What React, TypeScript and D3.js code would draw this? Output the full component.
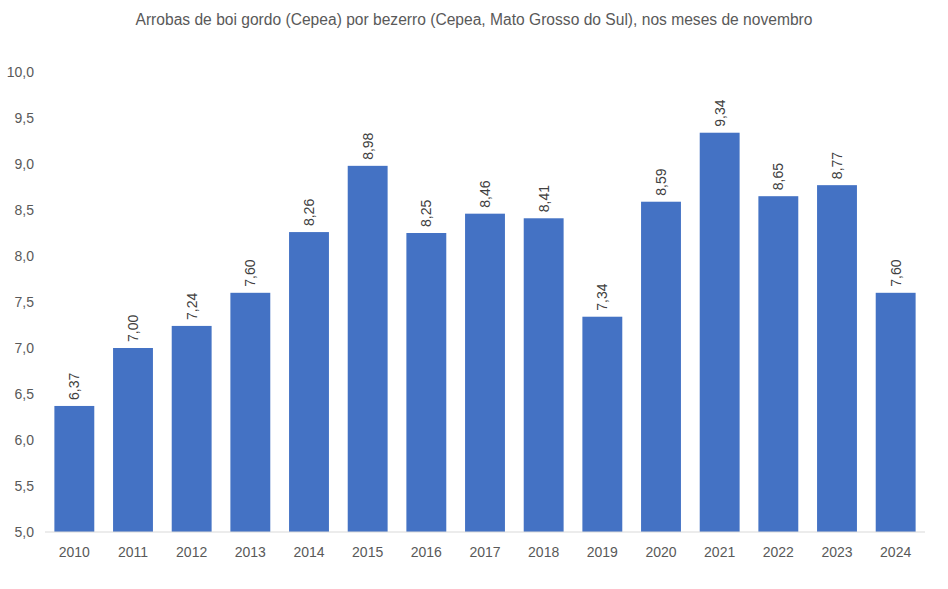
import * as d3 from "d3";

const years = ["2010", "2011", "2012", "2013", "2014", "2015", "2016", "2017", "2018", "2019", "2020", "2021", "2022", "2023", "2024"];
const values = [6.37, 7.0, 7.24, 7.6, 8.26, 8.98, 8.25, 8.46, 8.41, 7.34, 8.59, 9.34, 8.65, 8.77, 7.6];
const yTicks = [5, 5.5, 6, 6.5, 7, 7.5, 8, 8.5, 9, 9.5, 10];

const title = "Arrobas de boi gordo (Cepea) por bezerro (Cepea, Mato Grosso do Sul), nos meses de novembro";

const width = 948;
const height = 589;
const margin = { top: 72, right: 23, bottom: 57, left: 45 };

const fmt = (v: number, d: number) => v.toFixed(d).replace(".", ",");

export default function App() {
  const x = d3
    .scaleBand<string>()
    .domain(years)
    .range([margin.left, width - margin.right])
    .paddingInner(0.32)
    .paddingOuter(0.16);

  const y = d3
    .scaleLinear()
    .domain([5, 10])
    .range([height - margin.bottom, margin.top]);

  const font = "Liberation Sans, Arial, sans-serif";

  return (
    <svg
      width={width}
      height={height}
      style={{ position: "absolute", left: 0, top: 0, background: "#fff" }}
      fontFamily={font}
    >
      <text x={474} y={25} textAnchor="middle" fontSize={15.6} fill="#595959">
        {title}
      </text>

      {/* y ticks */}
      {yTicks.map((t) => (
        <text
          key={t}
          x={34}
          y={y(t)}
          dy="0.35em"
          textAnchor="end"
          fontSize={14}
          fill="#595959"
        >
          {fmt(t, 1)}
        </text>
      ))}

      {/* bars */}
      {years.map((yr, i) => (
        <rect
          key={yr}
          x={x(yr)}
          y={y(values[i])}
          width={x.bandwidth()}
          height={y(5) - y(values[i])}
          fill="#4472C4"
        />
      ))}

      {/* value labels */}
      {years.map((yr, i) => {
        const cx = (x(yr) ?? 0) + x.bandwidth() / 2;
        const ty = y(values[i]) - 6;
        return (
          <text
            key={yr}
            transform={`translate(${cx},${ty}) rotate(-90)`}
            dy="0.35em"
            textAnchor="start"
            fontSize={14}
            fill="#404040"
          >
            {fmt(values[i], 2)}
          </text>
        );
      })}

      {/* baseline */}
      <line
        x1={margin.left}
        x2={width - margin.right}
        y1={y(5)}
        y2={y(5)}
        stroke="#d9d9d9"
        strokeWidth={1}
      />

      {/* x labels */}
      {years.map((yr) => (
        <text
          key={yr}
          x={(x(yr) ?? 0) + x.bandwidth() / 2}
          y={557}
          textAnchor="middle"
          fontSize={14}
          fill="#595959"
        >
          {yr}
        </text>
      ))}
    </svg>
  );
}
